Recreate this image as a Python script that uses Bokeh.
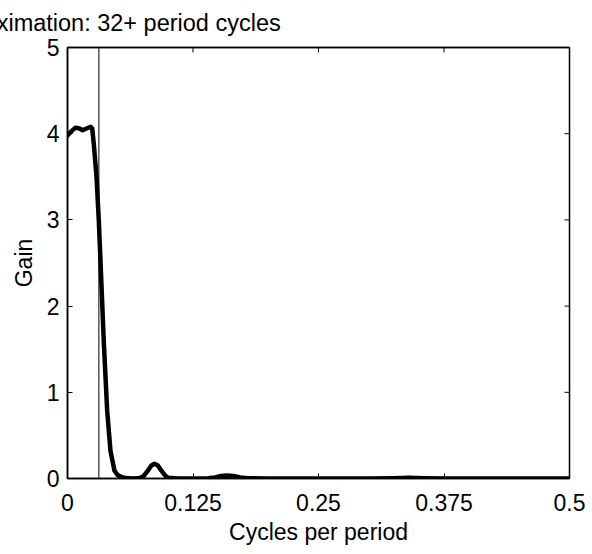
import math
from bokeh.plotting import figure
from bokeh.models import Span, FixedTicker, Range1d, LinearAxis
from bokeh.embed import file_html
from bokeh.resources import INLINE

# ---- data ----
freq = [0.0, 0.004, 0.008, 0.012, 0.015, 0.019, 0.023, 0.0246, 0.0262, 0.0289,
        0.0312, 0.0335, 0.0362, 0.0395, 0.0428, 0.0468, 0.050, 0.053, 0.058, 0.065,
        0.072, 0.076, 0.080, 0.0835, 0.0867, 0.090, 0.0935, 0.0975, 0.100, 0.110,
        0.125, 0.140, 0.147, 0.153, 0.159, 0.165, 0.172, 0.180, 0.20, 0.25,
        0.30, 0.325, 0.34, 0.355, 0.38, 0.42, 0.46, 0.5]
gain = [3.98, 4.03, 4.07, 4.06, 4.04, 4.06, 4.08, 4.06, 3.88, 3.50,
        2.99, 2.34, 1.57, 0.79, 0.32, 0.09, 0.04, 0.02, 0.005, 0.0,
        0.005, 0.03, 0.09, 0.15, 0.17, 0.15, 0.09, 0.03, 0.01, 0.0,
        0.0, 0.003, 0.012, 0.03, 0.035, 0.03, 0.012, 0.003, 0.0, 0.0,
        0.0, 0.003, 0.008, 0.003, 0.0, 0.0, 0.0, 0.0]
cutoff = 1 / 32

x_ticks = [0, 0.125, 0.25, 0.375, 0.5]
x_tick_labels = ["0", "0.125", "0.25", "0.375", "0.5"]
y_ticks = [0, 1, 2, 3, 4, 5]
y_tick_labels = ["0", "1", "2", "3", "4", "5"]

title_text = "Level 0 approximation: 32+ period cycles"
x_label = "Cycles per period"
y_label = "Gain"

FONT = "Liberation Sans"
FS = "23px"

x_min, x_max = x_ticks[0], x_ticks[-1]
y_min, y_max = y_ticks[0], y_ticks[-1]

p = figure(width=590, height=552,
           x_range=Range1d(x_min, x_max), y_range=Range1d(y_min, y_max),
           output_backend="svg", toolbar_location=None,
           min_border_left=67, min_border_right=21,
           min_border_top=47, min_border_bottom=74)

p.xgrid.visible = False
p.ygrid.visible = False
p.outline_line_color = "black"
p.outline_line_width = 1.5
p.background_fill_color = "white"
p.border_fill_color = "white"

def style_axis(ax, ticks, labels):
    ax.ticker = FixedTicker(ticks=ticks)
    ax.major_label_overrides = {t: l for t, l in zip(ticks, labels)}
    ax.major_tick_in = 5
    ax.major_tick_out = 0
    ax.minor_tick_in = 0
    ax.minor_tick_out = 0
    ax.axis_line_color = "black"
    ax.axis_line_width = 1.5
    ax.major_tick_line_color = "black"
    ax.major_tick_line_width = 1
    ax.major_label_text_font = FONT
    ax.major_label_text_color = "black"
    ax.major_label_text_font_size = FS
    ax.axis_label_text_font = FONT
    ax.axis_label_text_font_size = FS
    ax.axis_label_text_font_style = "normal"
    ax.axis_label_text_color = "black"

xa = p.xaxis[0]
ya = p.yaxis[0]
style_axis(xa, x_ticks, x_tick_labels)
style_axis(ya, y_ticks, y_tick_labels)
xa.major_label_standoff = 15
ya.major_label_standoff = 8
xa.axis_label = x_label
ya.axis_label = y_label
xa.axis_label_standoff = 5
ya.axis_label_standoff = 7

# title: carried as the label of a tick-less axis along the top edge
top = LinearAxis(ticker=FixedTicker(ticks=[]))
top.major_tick_in = 0
top.major_tick_out = 0
top.minor_tick_in = 0
top.minor_tick_out = 0
top.major_label_standoff = 0
top.axis_line_color = "black"
top.axis_line_width = 1.5
top.axis_label = title_text
top.axis_label_text_font = FONT
top.axis_label_text_font_size = "23.5px"
top.axis_label_text_font_style = "normal"
top.axis_label_text_color = "black"
top.axis_label_standoff = 12
top.axis_label_align = "start"
top.axis_label_text_align = "left"
p.add_layout(top, "above")

# mirrored inward ticks on the top and right edges (MATLAB "box on")
p.scatter(x_ticks, [y_max] * len(x_ticks), marker="dash", size=10,
          angle=math.pi / 2, line_color="black", line_width=1)
p.scatter([x_max] * len(y_ticks), y_ticks, marker="dash", size=10,
          angle=0, line_color="black", line_width=1)

p.add_layout(Span(location=cutoff, dimension="height", line_color="black", line_width=1))

p.line(freq, gain, line_color="black", line_width=4.5, line_join="round", line_cap="round")

open("out.html", "w").write(file_html(p, INLINE))
